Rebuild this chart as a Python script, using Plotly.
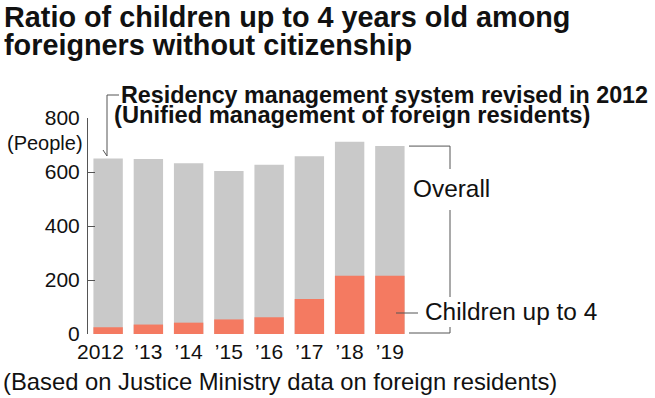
import plotly.graph_objects as go

# ---- data ----
years = ["2012", "2013", "2014", "2015", "2016", "2017", "2018", "2019"]
tick_labels = ["2012", "’13", "’14", "’15", "’16", "’17", "’18", "’19"]
overall = [650, 648, 632, 604, 627, 658, 712, 696]
children = [25, 35, 42, 54, 62, 130, 216, 216]
y_ticks = [0, 200, 400, 600, 800]

# ---- layout geometry (page pixels) ----
W, H = 655, 398
L, R, T, B = 88, 410, 118, 334
Y_MAX = 800
FONT = "Liberation Sans, Arial, sans-serif"
GRAY = "#c9c9c9"
ORANGE = "#f47a61"
LINE = "#555555"
FIRST_LABEL_NUDGE = -0.19  # the "2012" label sits a little left of its bar


def px(x):
    return (x - L) / (R - L)


def py(y):
    return (B - y) / (B - T)


xs = list(range(len(years)))
label_pos = [i + (FIRST_LABEL_NUDGE if i == 0 else 0) for i in xs]

fig = go.Figure()
fig.add_trace(go.Bar(x=xs, y=overall, marker=dict(color=GRAY, line=dict(width=0)),
                     name="Overall", showlegend=False))
fig.add_trace(go.Bar(x=xs, y=children, marker=dict(color=ORANGE, line=dict(width=0)),
                     name="Children up to 4", showlegend=False))

fig.update_layout(
    width=W, height=H,
    margin=dict(l=L, r=W - R, t=T, b=H - B, pad=0, autoexpand=False),
    paper_bgcolor="white", plot_bgcolor="white",
    barmode="overlay", bargap=0.27,
    font=dict(family=FONT, color="#111111"),
    xaxis=dict(range=[-0.5, len(years) - 0.5], tickvals=label_pos, ticktext=tick_labels,
               showgrid=False, zeroline=False, showline=False, ticks="",
               tickangle=0, automargin=False, ticklabelstandoff=3,
               tickfont=dict(size=21, family=FONT, color="#111111")),
    yaxis=dict(range=[0, Y_MAX], tickvals=y_ticks, showgrid=False, zeroline=False,
               showline=True, linecolor=LINE, linewidth=1,
               ticks="inside", ticklen=7, tickcolor=LINE, tickwidth=1,
               ticklabelstandoff=3, automargin=False,
               tickfont=dict(size=21, family=FONT, color="#111111")),
)

shapes = []


def seg(x0, y0, x1, y1):
    shapes.append(dict(type="line", xref="paper", yref="paper", x0=x0, y0=y0, x1=x1, y1=y1,
                       line=dict(color=LINE, width=1)))


# bracket on the right
bx0, bx1 = px(409), px(450)
top = overall[-1] / Y_MAX
seg(bx0, top, bx1, top)
seg(bx1, top, bx1, py(169))
seg(bx1, py(210), bx1, py(297))
seg(bx1, py(327), bx1, py(333))
seg(bx0, py(333), bx1, py(333))
# connector to children label
seg(px(396), py(313), px(418), py(313))
# leader line for the revision note
seg(px(107), py(95), px(119), py(95))
seg(px(107), py(95), px(107), py(156))
seg(px(103), py(150), px(107), py(156))

fig.update_layout(shapes=shapes)

ann = []


def text(t, x, y, size, bold=False, xanchor="left"):
    ann.append(dict(text=f"<b>{t}</b>" if bold else t, xref="paper", yref="paper",
                    x=px(x), y=py(y), xanchor=xanchor, yanchor="middle", showarrow=False,
                    borderpad=0,
                    font=dict(size=size, family=FONT, color="#111111")))


text("Ratio of children up to 4 years old among", 3, 17, 28.8, bold=True)
text("foreigners without citizenship", 3, 44.5, 28.8, bold=True)
text("Residency management system revised in 2012", 120, 95.5, 23.3, bold=True)
text("(Unified management of foreign residents)", 113, 114.5, 23.7, bold=True)
text("(People)", 84, 143, 20, xanchor="right")
text("Overall", 412, 188, 24.4)
text("Children up to 4", 424, 311, 24.4)
text("(Based on Justice Ministry data on foreign residents)", 2, 381, 23.8)

fig.update_layout(annotations=ann)

fig.write_html("out.html", config={"displayModeBar": False},
               post_script="document.body.style.margin='0';document.body.style.padding='0';")
